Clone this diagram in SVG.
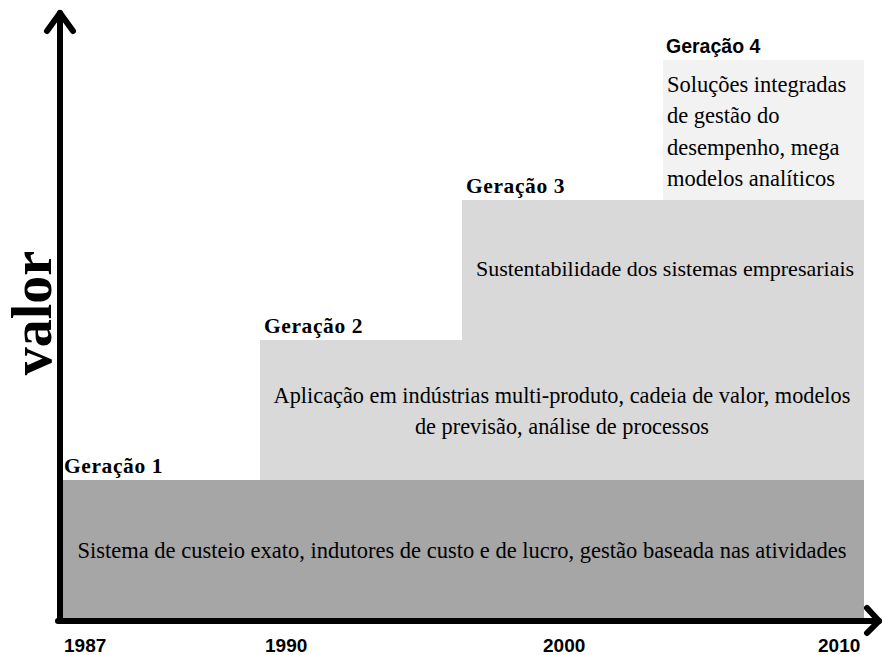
<svg xmlns="http://www.w3.org/2000/svg" width="883" height="655" viewBox="0 0 883 655">
<style>
.serif{font-family:"Liberation Serif","Times New Roman",serif;fill:#000}
.sans{font-family:"Liberation Sans",Arial,sans-serif;font-weight:bold;fill:#000}
.gen{font-size:21.5px;font-weight:bold;letter-spacing:0.6px}
.body{font-size:22.5px}
.b2{font-size:22.3px}
.b3{font-size:22px}
.yr{font-size:19px}
.axis{stroke:#000;stroke-width:6;fill:none;stroke-linecap:round;stroke-linejoin:round}
</style>
<rect width="883" height="655" fill="#fff"/>
<g id="gen1">
<rect x="62" y="480" width="802" height="139" fill="#a6a6a6"/>
<text class="serif gen" x="64" y="473">Geração 1</text>
<text class="serif body" x="462" y="558" text-anchor="middle">Sistema de custeio exato, indutores de custo e de lucro, gestão baseada nas atividades</text>
</g>
<g id="gen2">
<rect x="260" y="340" width="604" height="140" fill="#d9d9d9"/>
<text class="serif gen" x="264" y="333">Geração 2</text>
<text class="serif b2" x="562" y="403" text-anchor="middle">Aplicação em indústrias multi-produto, cadeia de valor, modelos</text>
<text class="serif b2" x="562" y="434" text-anchor="middle">de previsão, análise de processos</text>
</g>
<g id="gen3">
<rect x="462" y="200" width="402" height="140" fill="#d9d9d9"/>
<text class="serif gen" x="466" y="193">Geração 3</text>
<text class="serif b3" x="665" y="276" text-anchor="middle">Sustentabilidade dos sistemas empresariais</text>
</g>
<g id="gen4">
<rect x="663" y="60" width="201" height="140" fill="#f2f2f2"/>
<text class="sans" x="666" y="53" font-size="19.5">Geração 4</text>
<text class="serif body" x="667" y="92">Soluções integradas</text>
<text class="serif body" x="667" y="123">de gestão do</text>
<text class="serif body" x="667" y="155">desempenho, mega</text>
<text class="serif body" x="667" y="186">modelos analíticos</text>
</g>
<g id="connectors">
<path class="axis" d="M60 621 V13"/>
<path class="axis" d="M47 31 L60 13 L73 31"/>
<path class="axis" d="M58 621 H879"/>
<path class="axis" d="M867 608 L879 621 L867 633"/>
</g>
<g id="labels">
<text class="serif" x="0" y="0" font-size="56" font-weight="bold" text-anchor="middle" transform="translate(51 313) rotate(-90)">valor</text>
<text class="sans yr" x="64" y="652">1987</text>
<text class="sans yr" x="265" y="652">1990</text>
<text class="sans yr" x="543" y="652">2000</text>
<text class="sans yr" x="818" y="652">2010</text>
</g>
</svg>
